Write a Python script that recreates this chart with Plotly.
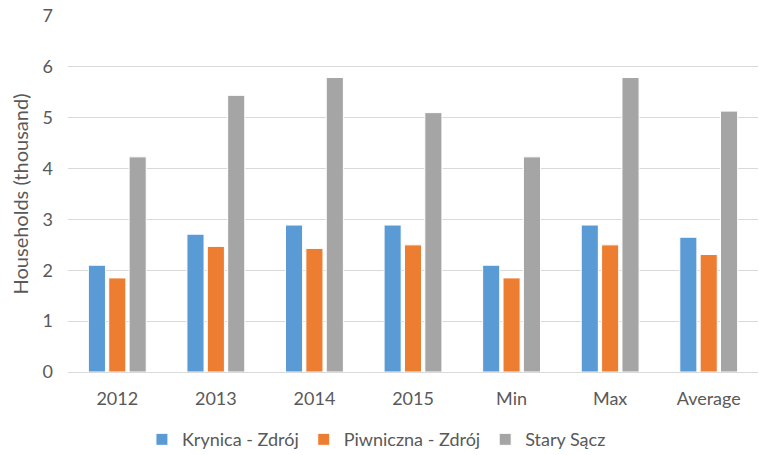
import plotly.graph_objects as go

categories = ["2012", "2013", "2014", "2015", "Min", "Max", "Average"]
krynica = [2.10, 2.71, 2.89, 2.89, 2.10, 2.89, 2.65]
piwniczna = [1.85, 2.47, 2.43, 2.50, 1.85, 2.50, 2.31]
stary = [4.23, 5.44, 5.79, 5.10, 4.23, 5.79, 5.13]

series = [("Krynica - Zdrój", krynica, "#5B9BD5"),
          ("Piwniczna - Zdrój", piwniczna, "#ED7D31"),
          ("Stary Sącz", stary, "#A5A5A5")]

fig = go.Figure()
for name, vals, col in series:
    fig.add_trace(go.Bar(x=categories, y=vals, name=name,
                         marker=dict(color=col, line=dict(color="white", width=1))))

fig.update_layout(
    width=759, height=455,
    margin=dict(l=68, r=1, t=16, b=83, autoexpand=False),
    paper_bgcolor="white", plot_bgcolor="white",
    barmode="group", bargap=0.38, bargroupgap=0.16,
    font=dict(family="Lato, Open Sans, sans-serif", size=18, color="#595959"),
    legend=dict(orientation="h", x=0.447, xanchor="center", y=-0.19, yanchor="middle",
                font=dict(size=18, color="#595959"), itemwidth=30,
                traceorder="normal"),
    xaxis=dict(showline=True, linecolor="#D9D9D9", linewidth=1, ticks="",
               automargin=False, ticklabelstandoff=10,
               tickfont=dict(size=18, color="#595959")),
    yaxis=dict(range=[0, 7], dtick=1, showgrid=True, gridcolor="#D9D9D9",
               gridwidth=1, zeroline=False, ticks="", automargin=False,
               ticklabelstandoff=14,
               tickfont=dict(size=18, color="#595959"),
               title=dict(text="Households (thousand)", font=dict(size=20, color="#595959"),
                          standoff=8)),
)

fig.write_html("out.html", config={"displayModeBar": False},
               post_script="document.body.style.margin='0';")
